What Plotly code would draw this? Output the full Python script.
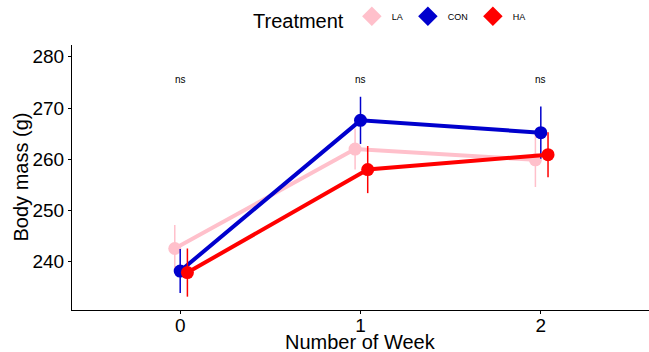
import plotly.graph_objects as go

weeks = [0, 1, 2]
groups = ["LA", "CON", "HA"]
colors = {"LA": "#FFC0CB", "CON": "#0000CD", "HA": "#FF0000"}
offsets = {"LA": -0.03, "CON": 0.0, "HA": 0.04}
means = {
    "LA": [242.6, 262.0, 259.9],
    "CON": [238.2, 267.6, 265.2],
    "HA": [237.9, 258.0, 260.9],
}
se = {
    "LA": [4.6, 4.0, 5.3],
    "CON": [4.3, 4.6, 5.1],
    "HA": [4.7, 4.6, 4.4],
}
sig_labels = ["ns", "ns", "ns"]
sig_y = 275.5

fig = go.Figure()
for g in groups:
    xs = [w + offsets[g] for w in weeks]
    fig.add_trace(go.Scatter(
        x=xs, y=means[g], name=g, mode="lines+markers", showlegend=False,
        line=dict(color=colors[g], width=4),
        marker=dict(color=colors[g], size=13),
        error_y=dict(type="data", array=se[g], visible=True,
                     color=colors[g], thickness=1.5, width=0),
    ))
for g in groups:
    fig.add_trace(go.Scatter(
        x=[None], y=[None], name=g, mode="markers",
        marker=dict(color=colors[g], size=15, symbol="diamond"),
    ))

for w, lab in zip(weeks, sig_labels):
    fig.add_annotation(x=w, y=sig_y, text=lab, showarrow=False,
                       font=dict(size=10, color="black"))

plot_h = 352 - 45 - 42
plot_w = 649 - 72
fig.add_annotation(x=0.5, xref="paper", y=-(342 - 310) / plot_h, yref="paper",
                   text="Number of Week", showarrow=False, yanchor="middle",
                   font=dict(size=20, color="black"))
fig.add_annotation(x=-(72 - 20) / plot_w, xref="paper", y=0.5, yref="paper",
                   text="Body mass (g)", showarrow=False, textangle=-90,
                   xanchor="center", font=dict(size=20, color="black"))

fig.update_layout(
    width=649, height=352,
    margin=dict(l=72, r=0, t=45, b=42),
    plot_bgcolor="white", paper_bgcolor="white",
    font=dict(family="Liberation Sans, Arial, sans-serif", color="black"),
    legend=dict(orientation="h", x=(251 - 72) / plot_w, xanchor="left", y=0.995, yanchor="top",
                yref="container", font=dict(size=9),
                title=dict(text="Treatment", font=dict(size=20), side="left"),
                itemwidth=30),
    showlegend=True,
)

fig.update_xaxes(
    range=[-0.6, 2.6], tickvals=weeks, ticktext=[str(w) for w in weeks],
    showline=True, linecolor="black", linewidth=1, ticks="outside",
    ticklen=3, tickcolor="black", showgrid=False, zeroline=False,
    tickfont=dict(size=19, color="black"), automargin=False,
    ticklabelstandoff=-5,
)
fig.update_yaxes(
    range=[230.6, 282.3], tickvals=[240, 250, 260, 270, 280],
    showline=True, linecolor="black", linewidth=1, ticks="outside",
    ticklen=3, tickcolor="black", showgrid=False, zeroline=False,
    tickfont=dict(size=19, color="black"), automargin=False,
)
fig.write_html("out.html")
